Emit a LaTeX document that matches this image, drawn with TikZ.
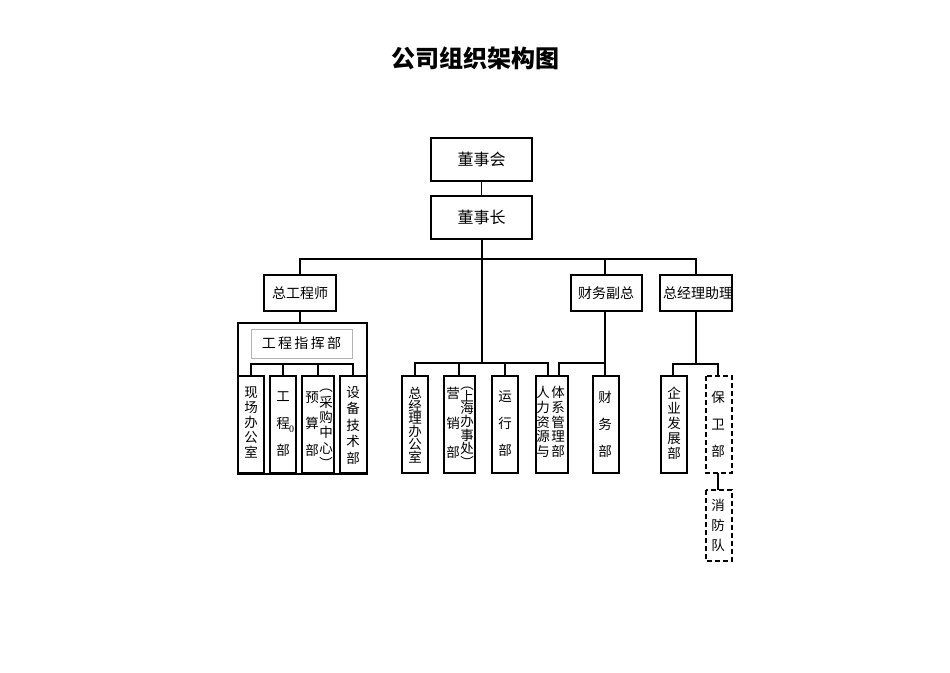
\documentclass[tikz,border=0pt]{standalone}
\usepackage{fontspec}
\setmainfont{Liberation Serif}
\newfontfamily\cjk{Noto Sans CJK SC}
\tikzset{
 bx/.style={draw,line width=1.4pt},
 dbx/.style={draw,line width=1.4pt,dash pattern=on 5pt off 3pt},
 ln/.style={line width=1.1pt},
 bus/.style={line width=2pt},
 lbl/.style={font=\cjk\fontsize{14}{14}\selectfont,inner sep=0},
}
\newcommand{\vcol}[5]{\node[lbl,align=center,font=\cjk\fontsize{13.5}{#4}\selectfont] (#1) at (#2,#3) {#5};}
\begin{document}
\begin{tikzpicture}[x=1pt,y=-1pt]
\useasboundingbox (0,0) rectangle (950,672);
\node[font=\cjk\bfseries\fontsize{24}{24}\selectfont] (title) at (475,58) {公司组织架构图};
% top boxes
\draw[bx] (431,138) rectangle (532,181); \node[lbl,font=\cjk\fontsize{16}{16}\selectfont] (dsh) at (481.5,159.5) {董事会};
\draw[bx] (431,196) rectangle (532,239); \node[lbl,font=\cjk\fontsize{16}{16}\selectfont] (dsz) at (481.5,217.5) {董事长};
\draw[ln] (481.5,181) -- (481.5,196);
\coordinate (tr) at (482,239);
\draw[ln] (tr) -- (482,363);
\draw[ln] (300,275) -- (300,259) -- (696,259) -- (696,275);
\draw[ln] (605,259) -- (605,275);
% level 2
\draw[bx] (264,275) rectangle (336,311); \node[lbl] (zgcs) at (300,293) {总工程师};
\draw[bx] (571,275) rectangle (642,311); \node[lbl] (cwfz) at (606,293) {财务副总};
\draw[bx] (660,275) rectangle (732,311); \node[lbl] (zjlzl) at (698,293) {总经理助理};
% engineering
\draw[ln] (300,311) -- (300,323);
\draw[bx] (238,323) rectangle (367,474);
\draw[gray!60,line width=0.8pt] (251,329) rectangle (352,358);
\node[lbl] (gczhb) at (301.5,343.5) {工\,程\,指\,挥\,部};
\draw[bus] (251,376) -- (251,364) -- (353,364) -- (353,376);
\draw[bus] (283,364) -- (283,376); \draw[bus] (318,364) -- (318,376);
\draw[bx] (238,376) rectangle (264,473);
\draw[bx] (270,376) rectangle (296,473);
\draw[bx] (302,376) rectangle (334,473);
\draw[bx] (340,376) rectangle (367,473);
\vcol{a1}{251}{423}{15}{现\\场\\办\\公\\室}
\vcol{a2}{283}{424}{27}{工\\程\\部}
\node[lbl,font=\fontsize{10}{10}\selectfont] (a2z) at (291.5,429) {0};
\vcol{a3}{312}{424}{26.5}{预\\算\\部}
\vcol{a4}{326}{429}{15.4}{︵\\采\\购\\中\\心\\︶}
\vcol{a5}{353}{425}{16.5}{设\\备\\技\\术\\部}
% center
\draw[bus] (415,376) -- (415,363) -- (548,363) -- (548,376);
\draw[bus] (459,363) -- (459,376); \draw[bus] (505,363) -- (505,376);
\draw[bx] (402,376) rectangle (428,473);
\draw[bx] (444,376) rectangle (475,473);
\draw[bx] (492,376) rectangle (518,473);
\draw[bx] (536,376) rectangle (568,473);
\draw[bx] (593,376) rectangle (619,473);
\vcol{b1}{415}{425}{12.8}{总\\经\\理\\办\\公\\室}
\vcol{b2}{453}{423}{29.5}{营\\销\\部}
\vcol{b3}{467}{427}{12.2}{︵\\上\\海\\办\\事\\处\\︶}
\vcol{b4}{505}{424}{27}{运\\行\\部}
\vcol{b5}{543}{422}{14.7}{人\\力\\资\\源\\与}
\vcol{b6}{558}{422}{14.7}{体\\系\\管\\理\\部}
\vcol{b7}{605}{424}{27}{财\\务\\部}
% finance
\draw[ln] (605,311) -- (605,376);
\draw[ln] (605,363) -- (559,363) -- (559,376);
% assistant
\draw[ln] (696,311) -- (696,364);
\draw[bus] (673,376) -- (673,364) -- (718,364) -- (718,376);
\draw[bx] (661,376) rectangle (687,473);
\draw[dbx] (706,376) rectangle (732,473);
\draw[ln] (718,473) -- (718,490);
\draw[dbx] (706,490) rectangle (732,561);
\vcol{c1}{674}{423}{15}{企\\业\\发\\展\\部}
\vcol{c2}{718}{424}{27}{保\\卫\\部}
\vcol{c3}{718}{525}{20}{消\\防\\队}
\end{tikzpicture}
\end{document}
